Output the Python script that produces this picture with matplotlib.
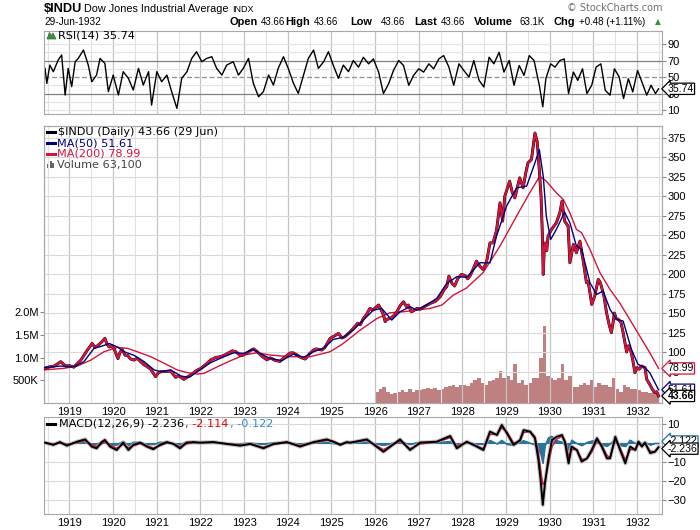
import matplotlib.pyplot as plt
from matplotlib.lines import Line2D
from matplotlib.patches import Rectangle, Polygon
import numpy as np

plt.rcParams['font.family'] = ['Liberation Sans', 'DejaVu Sans']

# values, dates in decimal years
price_t = [1918.42, 1918.55, 1918.65, 1918.80, 1918.91, 1919.00, 1919.10, 1919.26, 1919.41, 1919.52,
           1919.58, 1919.64, 1919.72, 1919.81, 1919.86, 1919.91, 1919.96, 1920.02, 1920.11, 1920.16,
           1920.21, 1920.27, 1920.33, 1920.40, 1920.48, 1920.55, 1920.63, 1920.70, 1920.78, 1920.86,
           1920.97, 1921.03, 1921.09, 1921.20, 1921.32, 1921.43, 1921.50, 1921.62, 1921.70, 1921.78,
           1921.90, 1922.01, 1922.12, 1922.23, 1922.35, 1922.46, 1922.55, 1922.65, 1922.73, 1922.81,
           1922.90, 1922.96, 1923.05, 1923.15, 1923.22, 1923.30, 1923.42, 1923.52, 1923.60, 1923.70,
           1923.82, 1923.90, 1924.05, 1924.12, 1924.20, 1924.30, 1924.40, 1924.50, 1924.59, 1924.65,
           1924.78, 1924.85, 1924.97, 1925.08, 1925.16, 1925.24, 1925.31, 1925.42, 1925.50, 1925.60,
           1925.66, 1925.73, 1925.80, 1925.88, 1925.95, 1926.03, 1926.08, 1926.14, 1926.19, 1926.23,
           1926.27, 1926.35, 1926.44, 1926.50, 1926.58, 1926.65, 1926.72, 1926.76, 1926.83, 1926.88,
           1926.96, 1927.03, 1927.15, 1927.26, 1927.38, 1927.49, 1927.58, 1927.64, 1927.69, 1927.76,
           1927.82, 1927.90, 1927.98, 1928.06, 1928.12, 1928.17, 1928.25, 1928.32, 1928.40, 1928.47,
           1928.55, 1928.63, 1928.70, 1928.78, 1928.86, 1928.92, 1928.97, 1929.08, 1929.14, 1929.20,
           1929.31, 1929.39, 1929.45, 1929.50, 1929.58, 1929.66, 1929.71, 1929.74, 1929.77, 1929.80,
           1929.83, 1929.85, 1929.87, 1929.90, 1929.93, 1929.96, 1930.04, 1930.15, 1930.23, 1930.28,
           1930.34, 1930.42, 1930.46, 1930.54, 1930.61, 1930.69, 1930.76, 1930.84, 1930.88, 1930.92,
           1930.96, 1931.03, 1931.11, 1931.15, 1931.18, 1931.24, 1931.30, 1931.36, 1931.41, 1931.45,
           1931.48, 1931.52, 1931.57, 1931.63, 1931.68, 1931.72, 1931.76, 1931.80, 1931.85, 1931.90,
           1931.95, 1932.00, 1932.05, 1932.10, 1932.18, 1932.22, 1932.29, 1932.35, 1932.41, 1932.45,
           1932.49]
price_v = [79.1, 81.0, 82.0, 87.6, 82.0, 82.5, 80.6, 89.7, 102.6, 111.0,
           106.0, 108.0, 112.0, 117.5, 110.0, 106.4, 108.5, 104.3, 91.5, 100.0,
           103.0, 96.0, 95.7, 91.0, 89.7, 92.0, 87.6, 84.0, 81.2, 78.0,
           68.4, 73.0, 74.8, 75.0, 75.6, 67.5, 69.5, 65.0, 68.0, 70.5,
           76.0, 79.0, 84.0, 89.7, 93.0, 94.0, 96.0, 99.0, 101.5, 100.4,
           96.0, 95.7, 98.5, 102.0, 104.0, 100.4, 94.0, 90.0, 92.5, 89.5,
           88.0, 92.0, 98.7, 99.0, 96.6, 93.0, 91.0, 98.0, 102.6, 104.0,
           102.6, 106.0, 117.6, 121.0, 124.0, 118.0, 119.7, 125.5, 130.3, 137.0,
           135.0, 143.0, 148.0, 156.0, 154.0, 158.0, 160.3, 154.0, 147.5, 139.0,
           142.0, 143.0, 147.5, 152.0, 160.0, 164.5, 158.0, 160.3, 151.7, 153.0,
           156.0, 155.0, 159.0, 162.4, 165.0, 171.0, 180.0, 183.8, 197.4, 188.0,
           184.7, 195.0, 199.6, 198.0, 194.0, 197.4, 207.0, 216.6, 210.0, 206.0,
           215.0, 240.0, 240.0, 256.0, 291.4, 268.0, 300.0, 319.2, 305.0, 297.8,
           323.5, 310.7, 330.0, 342.7, 347.0, 381.0, 370.3, 350.0, 325.6, 300.0,
           250.0, 199.6, 228.0, 240.0, 230.0, 248.7, 257.3, 265.8, 278.6, 293.6,
           268.0, 261.5, 214.5, 238.0, 227.4, 242.3, 218.8, 188.9, 190.0, 176.1,
           161.1, 171.8, 193.2, 190.0, 184.6, 172.0, 150.4, 135.0, 124.8, 138.0,
           150.0, 143.0, 141.9, 138.0, 124.8, 112.0, 100.0, 108.0, 103.0, 90.0,
           73.5, 80.0, 78.0, 82.0, 80.0, 64.9, 58.5, 52.0, 47.9, 49.0,
           43.66]

ma50_t = [1918.42, 1918.80, 1919.10, 1919.33, 1919.56, 1919.75, 1919.91, 1920.10, 1920.25, 1920.48,
          1920.71, 1920.94, 1921.09, 1921.32, 1921.55, 1921.74, 1921.93, 1922.23, 1922.54, 1922.77,
          1923.00, 1923.19, 1923.36, 1923.59, 1923.86, 1924.13, 1924.36, 1924.59, 1924.82, 1925.04,
          1925.27, 1925.50, 1925.73, 1925.96, 1926.15, 1926.38, 1926.57, 1926.80, 1926.95, 1927.18,
          1927.41, 1927.64, 1927.87, 1928.10, 1928.40, 1928.63, 1928.78, 1929.01, 1929.24, 1929.47,
          1929.66, 1929.76, 1929.85, 1929.92, 1930.02, 1930.15, 1930.34, 1930.46, 1930.61, 1930.73,
          1930.92, 1931.07, 1931.22, 1931.38, 1931.53, 1931.68, 1931.87, 1932.02, 1932.18, 1932.29,
          1932.49]
ma50_v = [79.9, 82.0, 81.2, 87.6, 104.7, 107.7, 111.0, 106.4, 100.4, 95.7,
          87.6, 77.0, 74.8, 77.0, 69.2, 67.5, 74.8, 86.3, 94.0, 99.1,
          98.3, 103.4, 98.3, 91.9, 88.9, 97.4, 93.2, 100.4, 104.7, 116.2,
          118.8, 128.2, 141.0, 153.8, 156.0, 141.0, 151.7, 158.1, 153.8, 160.3,
          168.8, 188.0, 196.6, 196.0, 214.5, 214.5, 248.7, 287.2, 310.7, 312.8,
          342.7, 359.8, 325.6, 274.4, 244.4, 257.3, 279.5, 265.8, 235.9, 231.6,
          188.9, 173.9, 178.2, 154.7, 141.9, 139.7, 103.4, 84.2, 79.9, 73.5,
          51.61]

ma200_t = [1918.42, 1918.87, 1919.18, 1919.49, 1919.79, 1920.10, 1920.33, 1920.55, 1920.86, 1921.17,
           1921.47, 1921.70, 1921.93, 1922.08, 1922.39, 1922.69, 1923.00, 1923.30, 1923.59, 1924.05,
           1924.51, 1924.97, 1925.27, 1925.66, 1926.04, 1926.34, 1926.65, 1926.95, 1927.26, 1927.53,
           1927.79, 1928.09, 1928.47, 1928.86, 1929.24, 1929.54, 1929.77, 1929.92, 1930.15, 1930.31,
           1930.46, 1930.61, 1930.73, 1930.92, 1931.15, 1931.38, 1931.60, 1931.83, 1932.06, 1932.29,
           1932.49]
ma200_v = [77.0, 79.1, 82.0, 89.7, 100.4, 106.0, 104.7, 100.4, 94.0, 85.5,
           77.0, 73.5, 71.8, 72.6, 81.2, 88.9, 96.2, 99.1, 96.2, 94.0,
           94.0, 100.4, 111.0, 128.2, 143.0, 150.4, 151.7, 153.8, 156.0, 160.3,
           173.0, 182.0, 201.7, 236.0, 274.4, 304.3, 325.6, 319.2, 304.3, 295.7,
           278.6, 257.3, 253.0, 231.6, 201.7, 180.3, 163.2, 141.9, 120.5, 99.1,
           78.99]

# monthly volume (millions), Jan 1926 .. Jun 1932
vol_v = [0.25, 0.30, 0.35, 0.25, 0.20, 0.22, 0.25, 0.28, 0.25, 0.30, 0.25, 0.28,
         0.28, 0.30, 0.32, 0.30, 0.32, 0.28, 0.30, 0.35, 0.38, 0.40, 0.35, 0.40,
         0.40, 0.38, 0.45, 0.50, 0.55, 0.45, 0.40, 0.48, 0.50, 0.55, 0.70, 0.55,
         0.60, 0.50, 0.86, 0.45, 0.50, 0.40, 0.45, 0.55, 0.55, 1.00, 1.70, 0.60,
         0.55, 0.50, 0.55, 0.86, 0.50, 0.60, 0.35, 0.35, 0.40, 0.45, 0.40, 0.50,
         0.35, 0.45, 0.40, 0.40, 0.35, 0.55, 0.30, 0.25, 0.40, 0.35, 0.30, 0.30,
         0.28, 0.25, 0.25, 0.22, 0.25, 0.20]

rsi_t = [1918.44, 1918.48, 1918.55, 1918.63, 1918.74, 1918.82, 1918.90, 1918.97, 1919.05, 1919.13,
         1919.20, 1919.32, 1919.43, 1919.51, 1919.62, 1919.70, 1919.81, 1919.89, 1920.00, 1920.12,
         1920.23, 1920.35, 1920.46, 1920.58, 1920.69, 1920.81, 1920.88, 1921.00, 1921.11, 1921.23,
         1921.34, 1921.46, 1921.57, 1921.69, 1921.80, 1921.91, 1922.03, 1922.14, 1922.26, 1922.37,
         1922.49, 1922.60, 1922.75, 1922.87, 1922.98, 1923.10, 1923.21, 1923.33, 1923.44, 1923.56,
         1923.67, 1923.78, 1923.90, 1924.01, 1924.13, 1924.24, 1924.36, 1924.47, 1924.59, 1924.70,
         1924.82, 1924.93, 1925.04, 1925.16, 1925.27, 1925.39,
         1925.50, 1925.62, 1925.73, 1925.85, 1925.96, 1926.08, 1926.19, 1926.31, 1926.42, 1926.54,
         1926.65, 1926.77, 1926.88, 1927.00, 1927.11, 1927.23, 1927.34, 1927.46, 1927.57, 1927.69,
         1927.80, 1927.92, 1928.03, 1928.15, 1928.26, 1928.38, 1928.49, 1928.61, 1928.72, 1928.84,
         1928.95, 1929.07, 1929.18, 1929.30, 1929.41, 1929.53, 1929.64, 1929.76, 1929.84, 1929.91,
         1930.02, 1930.12, 1930.23, 1930.33, 1930.43, 1930.54, 1930.64, 1930.75, 1930.85, 1930.96,
         1931.06, 1931.17, 1931.27, 1931.38, 1931.48, 1931.59, 1931.69, 1931.80, 1931.90, 1932.01,
         1932.11, 1932.22, 1932.32, 1932.42, 1932.49]
rsi_v = [60.5, 42.3, 64.5, 56.5, 70.6, 76.7, 28.2, 60.5, 38.3, 68.5,
         72.6, 82.7, 64.5, 44.3, 52.4, 72.6, 66.6, 32.2, 52.4, 28.2,
         56.5, 48.4, 34.2, 60.5, 40.3, 56.5, 16.0, 56.5, 44.3, 52.4,
         32.2, 12.0, 48.4, 56.5, 72.6, 80.7, 68.5, 72.6, 74.6, 60.5,
         52.4, 64.5, 68.5, 52.4, 60.5, 72.6, 42.3, 26.1, 32.2, 52.4,
         40.3, 60.5, 74.6, 60.5, 42.3, 30.2, 52.4, 72.6, 82.7, 60.5,
         68.5, 80.7, 64.5, 48.4, 64.5, 56.5,
         70.0, 62.0, 74.0, 66.0, 72.0, 56.0, 30.0, 42.0, 58.0, 70.0,
         64.0, 40.0, 52.0, 60.0, 56.0, 66.0, 60.0, 72.0, 76.0, 62.0,
         40.0, 66.0, 58.0, 50.0, 70.0, 46.0, 38.0, 74.0, 66.0, 80.0,
         56.0, 70.0, 40.0, 64.0, 52.0, 76.0, 70.0, 40.0, 14.0, 48.0,
         66.0, 62.0, 70.0, 72.0, 30.0, 56.0, 46.0, 60.0, 30.0, 40.0,
         62.0, 66.0, 34.0, 28.0, 60.0, 50.0, 24.0, 48.0, 32.0, 58.0,
         44.0, 28.0, 40.0, 30.0, 35.74]

macd_t = [1918.44, 1918.63, 1918.78, 1918.94, 1919.17, 1919.36, 1919.51, 1919.62, 1919.74, 1919.81,
          1919.93, 1920.08, 1920.23, 1920.35, 1920.46, 1920.62, 1920.77, 1920.92, 1921.07, 1921.23,
          1921.38, 1921.53, 1921.68, 1921.84, 1921.99, 1922.30, 1922.60, 1922.91, 1923.14, 1923.44,
          1923.67, 1923.98, 1924.28, 1924.59, 1924.89, 1925.04, 1925.20, 1925.35,
          1925.43, 1925.81, 1926.19, 1926.57, 1926.80, 1927.03, 1927.41, 1927.72, 1927.87, 1928.10,
          1928.33, 1928.48, 1928.63, 1928.79, 1928.90, 1929.02, 1929.17, 1929.32, 1929.40, 1929.55,
          1929.66, 1929.74, 1929.79, 1929.84, 1929.89, 1929.97, 1930.05, 1930.16, 1930.28, 1930.35,
          1930.43, 1930.50, 1930.62, 1930.73, 1930.85, 1930.96, 1931.08, 1931.19, 1931.31, 1931.38,
          1931.50, 1931.61, 1931.73, 1931.84, 1931.96, 1932.03, 1932.11, 1932.18, 1932.30, 1932.41,
          1932.49]
macd_v = [0.2, -1.0, 0.5, -1.4, 0.7, 1.9, -1.9, -2.8, 0.5, 1.6,
          -1.9, -3.7, 0.2, -3.7, -1.0, 0.2, -1.9, -3.3, -1.0, 0.5,
          -0.5, -2.8, 0.2, 0.5, 0.2, 0.5, -0.5, -1.4, -0.5, -2.8,
          -0.5, 0.5, -1.9, 0.5, 1.9, 0.7, -1.0, 0.5,
          0.2, 1.9, -4.6, 1.9, -3.7, 0.2, 0.7, 3.7, -2.8, 0.7,
          -1.9, -3.7, 6.0, 4.2, 9.5, 5.1, -1.0, 1.6, 6.8, 6.0,
          2.5, -8.9, -19.5, -32.6, -21.2, -8.1, 1.6, 3.3, 4.2, 0.2,
          -10.7, -1.9, -3.7, -9.8, -8.1, -3.7, 2.5, -1.9, -8.1, -8.1,
          3.3, -3.7, -10.7, -1.9, -3.7, 0.7, -1.9, 0.2, -5.3, -4.6,
          -2.236]
sig_v = [0.2, -0.5, 0.0, -0.8, 0.2, 1.2, -0.8, -2.0, -0.5, 0.8,
         -1.0, -2.8, -0.8, -2.5, -1.5, -0.3, -1.3, -2.6, -1.5, 0.0,
         -0.3, -2.0, -0.5, 0.2, 0.2, 0.4, -0.3, -1.1, -0.6, -2.2,
         -0.8, 0.2, -1.4, 0.1, 1.4, 0.9, -0.6, 0.2,
         0.2, 1.4, -3.5, 1.0, -3.0, -0.5, 0.5, 2.8, -1.8, 0.3,
         -1.5, -3.0, 4.5, 4.6, 8.0, 5.8, 0.0, 1.0, 5.5, 6.0,
         3.5, -5.0, -14.0, -22.0, -20.0, -11.0, -2.0, 2.0, 3.6, 1.2,
         -7.0, -3.5, -3.5, -8.5, -8.5, -4.8, 1.0, -1.0, -6.5, -7.8,
         1.5, -2.5, -9.0, -3.5, -3.5, -0.5, -1.5, -0.3, -4.3, -4.5,
         -2.114]

year_ticks = list(range(1919, 1933))
price_ticks = list(range(75, 400, 25))
vol_ticks = [0.5, 1.0, 1.5, 2.0]
vol_labels = ['500K', '1.0M', '1.5M', '2.0M']
rsi_ticks = [10, 30, 50, 70, 90]
macd_ticks = [10, -10, -20, -30]

W, H = 700, 530
RED = '#d4143c'
NAVY = '#00007f'
TEAL = '#2a7399'
SPINE = '#a8a8a8'
X0, X1 = 1918.416, 1932.57
LEG = dict(fontsize=8.1, family=['DejaVu Sans'])


def box(l, t, r, b):
    return [l / W, 1 - b / H, (r - l) / W, (b - t) / H]


def ftext(x, y, s, **kw):
    kw.setdefault('va', 'center')
    kw.setdefault('fontsize', 7.5)
    return fig.text(x / W, 1 - y / H, s, **kw)


def fline(x0, x1, y, color, lw=2.2):
    fig.add_artist(Line2D([x0 / W, x1 / W], [1 - y / H, 1 - y / H], color=color, lw=lw,
                          transform=fig.transFigure))


def style(a):
    a.set_xlim(X0, X1)
    for s in a.spines.values():
        s.set_color(SPINE)
    for yr in year_ticks:
        a.axvline(yr, color='#c4c4c4', lw=0.9, zorder=0)
        a.axvline(yr - 0.5, color='#e2e2e2', lw=0.8, zorder=0)
    a.axvline(1932.5, color='#e2e2e2', lw=0.8, zorder=0)
    a.yaxis.tick_right()
    a.tick_params(axis='y', direction='out', length=3, color='#888888', labelsize=8, pad=1)
    a.tick_params(axis='x', length=0, labelsize=8, pad=3)
    a.set_xticks(year_ticks)


def tag(a, val, txt, ec, dy=0, wt='normal'):
    a.annotate(txt, xy=(1, val), xycoords=('axes fraction', 'data'), xytext=(4, dy),
               textcoords='offset points', ha='left', va='center', fontsize=7.6, fontweight=wt,
               bbox=dict(boxstyle='larrow,pad=0.06', fc='white', ec=ec, lw=0.9),
               annotation_clip=False, zorder=10)


fig = plt.figure(figsize=(7, 5.3), dpi=100)

# RSI panel
ax_rsi = fig.add_axes(box(44, 31, 662, 114))
style(ax_rsi)
ax_rsi.set_ylim(5.2, 105.8)
for lv in [10, 90, 20, 40, 60, 80]:
    ax_rsi.axhline(lv, color='#e4e4e4', lw=0.8, zorder=0)
ax_rsi.axhline(70, color='#808080', lw=0.9)
ax_rsi.axhline(30, color='#808080', lw=0.9)
ax_rsi.axhline(50, color='#909090', lw=0.9, ls=(0, (4, 2)))
ax_rsi.plot(rsi_t, rsi_v, color='black', lw=1.0)
ax_rsi.set_yticks(rsi_ticks)
ax_rsi.set_xticklabels([])
tag(ax_rsi, 35.74, '35.74', 'black')

# price panel with volume
ax = fig.add_axes(box(44, 126, 662, 403))
ax_vol = ax.twinx()
ax.set_zorder(ax_vol.get_zorder() + 1)
ax.patch.set_visible(False)
style(ax)
ax.set_ylim(34.6, 390)
for lv in price_ticks:
    ax.axhline(lv, color='#dadada', lw=0.8, zorder=0)
ax.set_yticks(price_ticks)
ax.set_xticks(year_ticks)
ax.set_xticklabels([str(y) for y in year_ticks])

vol_t = [1926.0 + i / 12 for i in range(len(vol_v))]
ax_vol.bar(vol_t, vol_v, width=1 / 12, align='edge', color='#b36a6a', alpha=0.85, lw=0)
ax_vol.set_xlim(X0, X1)
ax_vol.set_ylim(0, 6.1)
ax_vol.yaxis.tick_left()
ax_vol.set_yticks(vol_ticks)
ax_vol.set_yticklabels(vol_labels)
ax_vol.tick_params(axis='y', direction='out', length=3, color='#888888', labelsize=8, pad=1)
for s in ax_vol.spines.values():
    s.set_color(SPINE)

ax.plot(ma200_t, ma200_v, color=RED, lw=1.0, zorder=3)
ax.plot(price_t, price_v, color='black', lw=2.1, zorder=4)
ax.plot(price_t, price_v, color=RED, lw=1.6, zorder=5)
ax.plot(ma50_t, ma50_v, color=NAVY, lw=1.0, zorder=6)

tag(ax, 78.99, '78.99', RED)
tag(ax, 51.61, '51.61', NAVY)
tag(ax, 43.66, '43.66', 'black', wt='bold')

# MACD panel
ax_m = fig.add_axes(box(44, 417, 662, 514))
style(ax_m)
ax_m.set_ylim(-37.4, 13.7)
for lv in [10, 0, -10, -20, -30]:
    ax_m.axhline(lv, color='#dadada', lw=0.8, zorder=0)
hist = np.array(macd_v) - np.array(sig_v)
ax_m.fill_between(macd_t, hist, 0, color=TEAL, lw=0.8, zorder=2)
ax_m.plot(macd_t, hist, color=TEAL, lw=0.8, zorder=2)
ax_m.plot(macd_t, macd_v, color='#b0b0b0', lw=3.0, alpha=0.7, zorder=3)
ax_m.plot(macd_t, sig_v, color=RED, lw=1.0, zorder=4)
ax_m.plot(macd_t, macd_v, color='black', lw=1.4, zorder=5)
ax_m.set_yticks(macd_ticks)
ax_m.set_xticklabels([str(y) for y in year_ticks])
tag(ax_m, -2.122, '-2.122', TEAL, dy=4)
tag(ax_m, -2.236, '-2.236', 'black', dy=-1)

# header
ftext(44, 9, '$INDU', fontsize=9.2, fontweight='bold')
ftext(84, 9, 'Dow Jones Industrial Average', fontsize=7.8)
ftext(232, 9.5, 'INDX', fontsize=6.5)
ftext(44, 22, '29-Jun-1932', fontsize=7.2)
ftext(567, 8, '\u00a9 StockCharts.com', fontsize=7, color='#707070', family=['DejaVu Sans'])
hdr = [(230, 'Open', True), (261, '43.66', False), (285, 'High', True), (314, '43.66', False),
       (350, 'Low', True), (381, '43.66', False), (414, 'Last', True), (441, '43.66', False),
       (474, 'Volume', True), (519, '63.1K', False), (554, 'Chg', True),
       (579, '+0.48 (+1.11%)', False)]
for x, s, b in hdr:
    ftext(x, 22, s, fontsize=7.9 if b else 7.0, fontweight='bold' if b else 'normal')
ftext(655, 22, '\u25b2', fontsize=5.5, color='#2e9a2e', family=['DejaVu Sans'])

# RSI legend
fig.add_artist(Polygon([(47 / W, 1 - 39 / H), (49.5 / W, 1 - 32.5 / H), (51.5 / W, 1 - 35.5 / H),
                        (53 / W, 1 - 33 / H), (56 / W, 1 - 39 / H)], closed=True, fc='#3f8f3f',
                       ec='#2f6f2f', lw=0.5, transform=fig.transFigure))
ftext(58, 36, 'RSI(14) 35.74', **LEG)

# price legend
fline(47, 55, 132, 'black')
ftext(58, 132, '$INDU (Daily) 43.66 (29 Jun)', **LEG)
fline(47, 55, 143, NAVY)
ftext(57, 143, 'MA(50) 51.61', color=NAVY, **LEG)
fline(47, 55, 154, RED)
ftext(57, 154, 'MA(200) 78.99', color=RED, **LEG)
for i, hgt in enumerate([4, 7, 5]):
    fig.add_artist(Rectangle(((47 + i * 2.6) / W, 1 - 168 / H), 2 / W, hgt / H, fc='#666666',
                             lw=0, transform=fig.transFigure))
ftext(57, 165, 'Volume 63,100', color='#444444', **LEG)

# MACD legend
fline(47, 55, 424, 'black')
ftext(59, 424, 'MACD(12,26,9) -2.236', **LEG)
ftext(185, 424, ', -2.114', color='#e00000', **LEG)
ftext(230, 424, ', -0.122', color='#3090c0', **LEG)

fig.savefig('out.png', dpi=100)
